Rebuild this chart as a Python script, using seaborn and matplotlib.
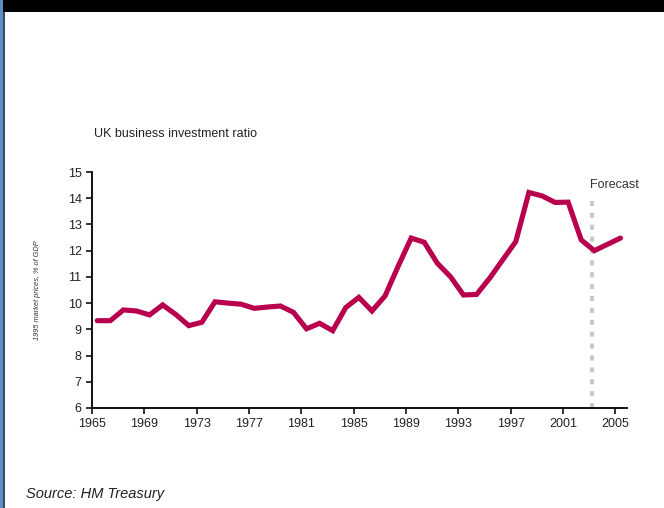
import matplotlib
matplotlib.use("Agg")
import matplotlib.pyplot as plt
from matplotlib.patches import Rectangle
import seaborn as sns
import pandas as pd
import numpy as np

years = list(range(1965, 2006))
ratio = [9.33, 9.33, 9.74, 9.70, 9.55, 9.93, 9.57, 9.14, 9.27, 10.05,
         10.00, 9.96, 9.80, 9.85, 9.89, 9.65, 9.02, 9.23, 8.95, 9.83,
         10.22, 9.70, 10.27, 11.40, 12.48, 12.32, 11.52, 11.01, 10.31, 10.33,
         10.95, 11.65, 12.35, 14.22, 14.09, 13.84, 13.85, 12.41, 12.00, 12.24,
         12.48]
xticks = [1965, 1969, 1973, 1977, 1981, 1985, 1989, 1993, 1997, 2001, 2005]
yticks = [6, 7, 8, 9, 10, 11, 12, 13, 14, 15]
forecast_year = 2003.2
forecast_top = 14.1

title = "UK business investment ratio"
ylabel = "1995 market prices, % of GDP"
source = "Source: HM Treasury"
forecast_label = "Forecast"

sns.set_theme(style="white")
plt.rcParams["font.family"] = ["Liberation Sans", "DejaVu Sans"]

df = pd.DataFrame({"year": np.array(years) + 0.4, "ratio": ratio})

fig = plt.figure(figsize=(6.64, 5.08), dpi=100)
fig.patch.set_facecolor("white")
ax = fig.add_axes([92/664, 1 - 408/508, (627 - 92)/664, (408 - 172)/508])

ax.vlines(forecast_year, 6, forecast_top, colors="#c6c9d0", linewidth=2.9,
          linestyles=(0, (1.25, 1.7)), zorder=1)
sns.lineplot(data=df, x="year", y="ratio", ax=ax, color="#b8004e",
             linewidth=3.7, zorder=3, solid_joinstyle="miter")

ax.set_xlim(1965, 2005.9)
ax.set_ylim(6, 15)
ax.set_xticks(xticks)
ax.set_yticks(yticks)
ax.set_xlabel("")
ax.set_ylabel(ylabel, fontsize=5.3, style="italic", color="#333333", labelpad=19)
for s in ["top", "right"]:
    ax.spines[s].set_visible(False)
for s in ["left", "bottom"]:
    ax.spines[s].set_color("#111111")
    ax.spines[s].set_linewidth(1.4)
ax.tick_params(axis="both", direction="out", length=4.5, width=1.2, color="#111111",
               labelsize=9, labelcolor="#222222", pad=3, bottom=True, left=True)

ax.text(forecast_year - 0.1, 14.4, forecast_label, fontsize=9, color="#333333",
        ha="left", va="baseline")
fig.text(94/664, 1 - 137/508, title, fontsize=9, color="#222222", ha="left", va="baseline")
fig.text(26/664, 1 - 498/508, source, fontsize=10.5, style="italic", color="#222222",
         ha="left", va="baseline")

fig.patches.append(Rectangle((0, 1 - 12/508), 1, 12/508, transform=fig.transFigure,
                             facecolor="black", edgecolor="none", zorder=0))
fig.patches.append(Rectangle((0, 0), 3.5/664, 1, transform=fig.transFigure,
                             facecolor="#5f8cc6", edgecolor="none", zorder=1))
fig.patches.append(Rectangle((3.5/664, 0), 1.5/664, 1 - 12/508, transform=fig.transFigure,
                             facecolor="#3a4a5c", edgecolor="none", zorder=1))

fig.savefig("out.png", dpi=100, facecolor="white")
